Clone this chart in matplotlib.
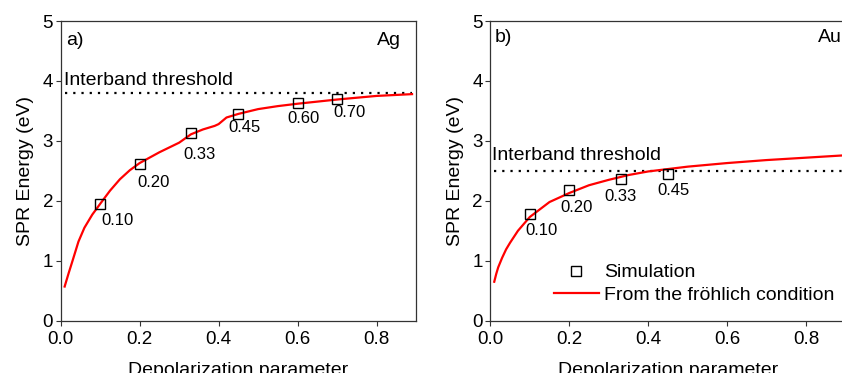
import matplotlib
matplotlib.use("Agg")
import matplotlib.pyplot as plt
from matplotlib.lines import Line2D

plt.rcParams['font.family'] = ['Liberation Sans', 'DejaVu Sans']

# ---- data ----
ag_curve_x = [0.01, 0.02, 0.03, 0.045, 0.06, 0.08, 0.10, 0.125, 0.15, 0.175, 0.20, 0.25, 0.30,
              0.33, 0.36, 0.39, 0.40, 0.42, 0.45, 0.50, 0.55, 0.60, 0.70, 0.80, 0.89]
ag_curve_y = [0.57, 0.79, 1.00, 1.32, 1.55, 1.77, 1.95, 2.17, 2.36, 2.51, 2.63, 2.81, 2.97,
              3.11, 3.19, 3.25, 3.28, 3.39, 3.45, 3.53, 3.58, 3.62, 3.69, 3.75, 3.78]
ag_sim_x = [0.10, 0.20, 0.33, 0.45, 0.60, 0.70]
ag_sim_y = [1.95, 2.62, 3.13, 3.45, 3.63, 3.70]
ag_labels = ["0.10", "0.20", "0.33", "0.45", "0.60", "0.70"]
ag_threshold = 3.8

au_curve_x = [0.01, 0.015, 0.02, 0.03, 0.04, 0.05, 0.07, 0.10, 0.15, 0.20, 0.25, 0.30, 0.35, 0.40,
              0.45, 0.50, 0.60, 0.70, 0.80, 0.90]
au_curve_y = [0.65, 0.78, 0.89, 1.05, 1.19, 1.30, 1.50, 1.73, 1.98, 2.13, 2.26, 2.35, 2.43, 2.49,
              2.53, 2.57, 2.63, 2.68, 2.72, 2.76]
au_sim_x = [0.10, 0.20, 0.33, 0.45]
au_sim_y = [1.78, 2.18, 2.36, 2.44]
au_labels = ["0.10", "0.20", "0.33", "0.45"]
au_threshold = 2.5

# label positions (left, vertical-center) in data coords
ag_lab_pos = [(0.104, 1.68), (0.193, 2.30), (0.310, 2.77), (0.424, 3.22), (0.574, 3.37), (0.690, 3.47)]
au_lab_pos = [(0.089, 1.50), (0.177, 1.89), (0.288, 2.07), (0.424, 2.17)]

W, H = 842, 373
fig = plt.figure(figsize=(W / 100, H / 100), dpi=100)

ax1 = fig.add_axes([60.7 / W, (H - 320.7) / H, 355.3 / W, 299.7 / H])
ax2 = fig.add_axes([490.3 / W, (H - 320.7) / H, 355.3 / W, 299.7 / H])

spine_col = '#333333'
for ax in (ax1, ax2):
    ax.set_xlim(0, 0.9)
    ax.set_ylim(0, 5)
    ax.set_xticks([0.0, 0.2, 0.4, 0.6, 0.8])
    ax.set_xticklabels(["0.0", "0.2", "0.4", "0.6", "0.8"])
    ax.set_yticks([0, 1, 2, 3, 4, 5])
    ax.tick_params(direction='out', length=3.5, width=0.8, labelsize=13.5,
                   color=spine_col)
    ax.tick_params(axis='x', pad=4)
    ax.tick_params(axis='y', pad=2)
    for s in ax.spines.values():
        s.set_color(spine_col)
        s.set_linewidth(0.9)
    ax.set_xlabel("Depolarization parameter", fontsize=14, labelpad=10)
    ax.set_ylabel("SPR Energy (eV)", fontsize=14, labelpad=6)

# Panel a
ax1.plot([0.01, 0.89], [ag_threshold, ag_threshold], color='black', lw=1.6,
         linestyle=(0, (1, 2.7)))
ax1.plot(ag_curve_x, ag_curve_y, color='red', lw=1.6)
ax1.plot(ag_sim_x, ag_sim_y, linestyle='none', marker='s', markersize=7,
         markerfacecolor='none', markeredgecolor='black', markeredgewidth=1.0)
for lab, (lx, ly) in zip(ag_labels, ag_lab_pos):
    ax1.text(lx, ly, lab, fontsize=12, ha='left', va='center')
ax1.text(0.013, 4.68, "a)", fontsize=14, ha='left', va='center')
ax1.text(0.862, 4.68, "Ag", fontsize=14, ha='right', va='center')
ax1.text(0.008, 4.0, "Interband threshold", fontsize=14, ha='left', va='center')

# Panel b
ax2.plot([0.01, 0.9], [au_threshold, au_threshold], color='black', lw=1.6,
         linestyle=(0, (1, 2.7)))
ax2.plot(au_curve_x, au_curve_y, color='red', lw=1.6)
ax2.plot(au_sim_x, au_sim_y, linestyle='none', marker='s', markersize=7,
         markerfacecolor='none', markeredgecolor='black', markeredgewidth=1.0)
for lab, (lx, ly) in zip(au_labels, au_lab_pos):
    ax2.text(lx, ly, lab, fontsize=12, ha='left', va='center')
ax2.text(0.010, 4.73, "b)", fontsize=14, ha='left', va='center')
ax2.text(0.830, 4.73, "Au", fontsize=14, ha='left', va='center')
ax2.text(0.005, 2.75, "Interband threshold", fontsize=14, ha='left', va='center')

handles = [Line2D([], [], linestyle='none', marker='s', markersize=7,
                  markerfacecolor='none', markeredgecolor='black', markeredgewidth=1.0),
           Line2D([], [], color='red', lw=1.6)]
ax2.legend(handles, ["Simulation", "From the fröhlich condition"],
           loc='upper left', bbox_to_anchor=(0.179, 0.19), frameon=False,
           fontsize=14, handlelength=2.3, handletextpad=0.3, borderpad=0,
           borderaxespad=0, labelspacing=0.25)

fig.savefig("out.png", dpi=100)
